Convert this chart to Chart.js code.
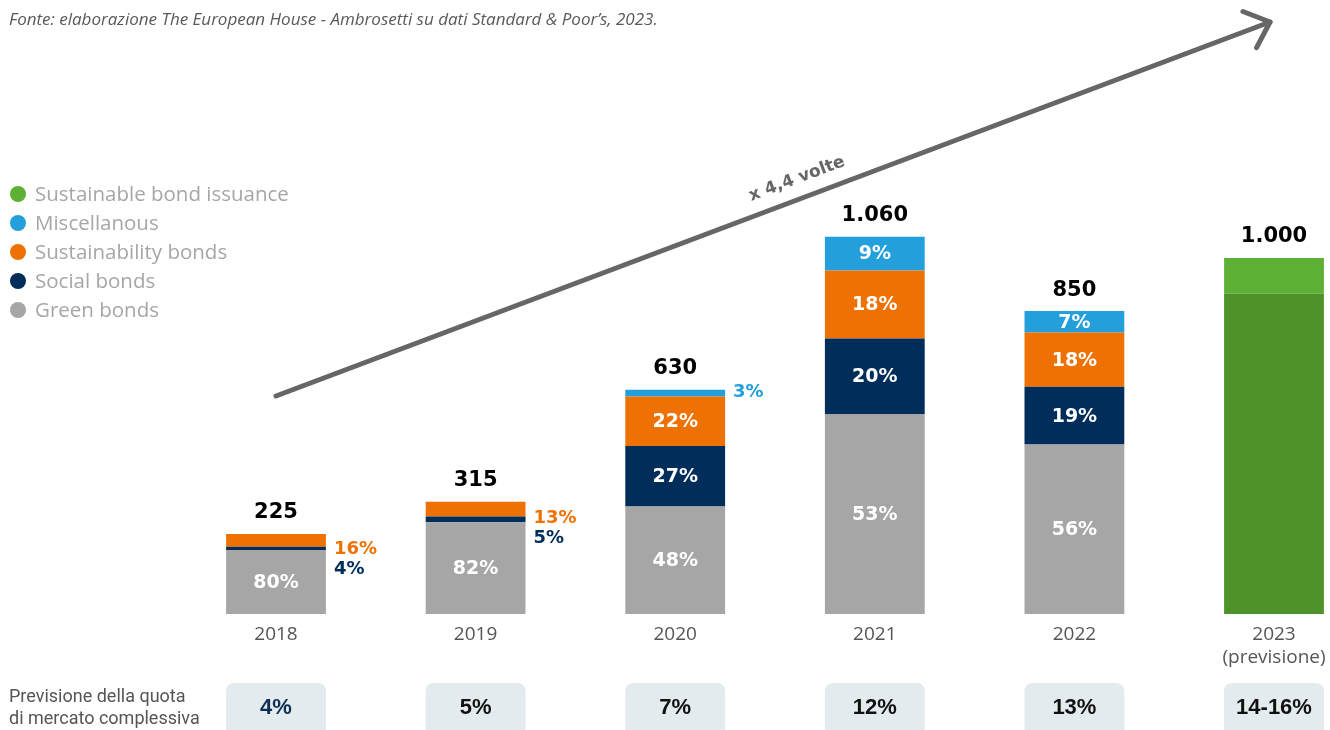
<!DOCTYPE html>
<html>
<head>
<meta charset="utf-8">
<script src="https://cdn.jsdelivr.net/npm/chart.js@4.4.1/dist/chart.umd.min.js"></script>
<style>
  html, body { margin: 0; background: #fff; }
  canvas { display: block; }
</style>
</head>
<body>
<canvas id="chart" width="1330" height="730"></canvas>
<script>
// values in bln USD
const years = ['2018', '2019', '2020', '2021', '2022', ['2023', '(previsione)']]
const totals = [225, 315, 630, 1060, 850, 1000]

const greenBonds = [180, 258, 302, 562, 476, null]
const socialBonds = [9, 16, 170, 212, 162, null]
const sustainabilityBonds = [36, 41, 139, 191, 153, null]
const miscellanous = [null, null, 19, 95, 60, null]
const sustainableBase = [null, null, null, null, null, 900]
const sustainableTop = [null, null, null, null, null, 100]

const greenShare = ['80%', '82%', '48%', '53%', '56%', null]
const socialShare = ['4%', '5%', '27%', '20%', '19%', null]
const sustainabilityShare = ['16%', '13%', '22%', '18%', '18%', null]
const miscShare = [null, null, '3%', '9%', '7%', null]

const marketShare = ['4%', '5%', '7%', '12%', '13%', '14-16%']

const GRAY = '#A6A6A6'
const NAVY = '#012D5A'
const ORANGE = '#EE7203'
const BLUE = '#239FDB'
const GREEN = '#5DB033'
const DARKGREEN = '#4E9229'

const fmt = n => String(n).replace(/\B(?=(\d{3})+(?!\d))/g, '.')

const overlay = {
  id: 'overlay',
  afterDatasetsDraw(chart) {
    const { ctx, scales: { x, y } } = chart
    ctx.save()
    // segment percentages
    for (let i = 0; i < years.length; i++) {
      const outside = []
      chart.data.datasets.forEach((ds, di) => {
        if (!ds.shares || !ds.shares[i]) return
        const el = chart.getDatasetMeta(di).data[i]
        if (!el) return
        const h = el.base - el.y
        if (h >= 18) {
          ctx.font = 'bold 19px "DejaVu Sans"'
          ctx.fillStyle = '#fff'
          ctx.textAlign = 'center'
          ctx.textBaseline = 'middle'
          ctx.fillText(ds.shares[i], el.x, (el.y + el.base) / 2 + 1)
        } else {
          outside.push({ text: ds.shares[i], color: ds.backgroundColor, el })
        }
      })
      outside.reverse()
      ctx.font = 'bold 18px "DejaVu Sans"'
      ctx.textAlign = 'left'
      ctx.textBaseline = 'middle'
      outside.forEach((o, k) => {
        const top = outside[0].el
        const cy = (top.y + top.base) / 2
        const yy = outside.length > 1 ? cy + 9 + k * 20 : cy - 1
        ctx.fillStyle = o.color
        ctx.fillText(o.text, o.el.x + o.el.width / 2 + 8, yy)
      })
      // totals
      ctx.font = 'bold 21px "DejaVu Sans"'
      ctx.fillStyle = '#000'
      ctx.textAlign = 'center'
      ctx.fillText(fmt(totals[i]), x.getPixelForValue(i), y.getPixelForValue(totals[i]) - 21)
    }
    ctx.restore()
  },
  afterDraw(chart) {
    const { ctx, scales: { x } } = chart
    ctx.save()

    // source
    ctx.font = 'italic 17px "Open Sans"'
    ctx.fillStyle = '#595959'
    ctx.textAlign = 'left'
    ctx.textBaseline = 'middle'
    ctx.fillText('Fonte: elaborazione The European House - Ambrosetti su dati Standard & Poor\u2019s, 2023.', 9, 20)

    // legend
    const items = chart.data.datasets.filter(d => d.legend !== false).reverse()
    items.forEach((d, k) => {
      const yy = 194 + k * 29
      ctx.beginPath()
      ctx.arc(18, yy, 8, 0, Math.PI * 2)
      ctx.fillStyle = d.backgroundColor
      ctx.fill()
      ctx.font = '20.5px "Open Sans"'
      ctx.fillStyle = GRAY
      ctx.fillText(d.label, 35, yy + 1)
    })

    // growth arrow
    const x0 = x.getPixelForValue(0), y0 = 396
    const x1 = x.getPixelForValue(5) - 4, y1 = 22
    const ang = Math.atan2(y1 - y0, x1 - x0)
    ctx.strokeStyle = '#666'
    ctx.lineWidth = 5
    ctx.lineCap = 'round'
    ctx.lineJoin = 'round'
    ctx.beginPath()
    ctx.moveTo(x0, y0)
    ctx.lineTo(x1, y1)
    ctx.stroke()
    ctx.beginPath()
    const arm = 29
    ctx.moveTo(x1 + arm * Math.cos(ang + Math.PI - 0.73), y1 + arm * Math.sin(ang + Math.PI - 0.73))
    ctx.lineTo(x1, y1)
    ctx.lineTo(x1 + arm * Math.cos(ang + Math.PI + 0.73), y1 + arm * Math.sin(ang + Math.PI + 0.73))
    ctx.stroke()
    ctx.save()
    ctx.translate(797, 179)
    ctx.rotate(ang)
    ctx.font = 'bold 17px "DejaVu Sans"'
    ctx.fillStyle = '#666'
    ctx.textAlign = 'center'
    ctx.fillText('x 4,4 volte', 0, 0)
    ctx.restore()

    // market share row
    ctx.font = '18px Roboto'
    ctx.fillStyle = '#555'
    ctx.textAlign = 'left'
    ctx.fillText('Previsione della quota', 9, 697)
    ctx.fillText('di mercato complessiva', 9, 719)
    marketShare.forEach((t, i) => {
      const cx = x.getPixelForValue(i)
      ctx.beginPath()
      ctx.roundRect(cx - 50, 683, 100, 60, 8)
      ctx.fillStyle = '#E4EBEE'
      ctx.fill()
      ctx.font = 'bold 22px "Liberation Sans"'
      ctx.fillStyle = i === 0 ? '#0D2E55' : '#111'
      ctx.textAlign = 'center'
      ctx.fillText(t, cx, 708)
    })
    ctx.restore()
  }
}

const data = {
  labels: years,
  datasets: [
    { label: 'Green bonds', data: greenBonds, backgroundColor: GRAY, shares: greenShare },
    { label: 'Social bonds', data: socialBonds, backgroundColor: NAVY, shares: socialShare },
    { label: 'Sustainability bonds', data: sustainabilityBonds, backgroundColor: ORANGE, shares: sustainabilityShare },
    { label: 'Miscellanous', data: miscellanous, backgroundColor: BLUE, shares: miscShare },
    { label: 'Sustainable bond issuance (base)', data: sustainableBase, backgroundColor: DARKGREEN, legend: false },
    { label: 'Sustainable bond issuance', data: sustainableTop, backgroundColor: GREEN },
  ].map(d => Object.assign(d, { clip: false }))
}

new Chart(document.getElementById('chart').getContext('2d'), {
  type: 'bar',
  data,
  options: {
    responsive: false,
    animation: false,
    devicePixelRatio: 1,
    categoryPercentage: 1,
    barPercentage: 0.5,
    borderWidth: 0,
    layout: { padding: { left: 276, right: 56, top: 80, bottom: 52.4 } },
    plugins: { legend: { display: false }, tooltip: { enabled: false } },
    scales: {
      x: {
        stacked: true,
        offset: false,
        grid: { display: false, drawTicks: false },
        border: { display: false },
        ticks: { color: '#555', font: { family: 'Open Sans', size: 19 }, padding: 9, maxRotation: 0, autoSkip: false },
        afterFit(scale) { scale.paddingLeft = 0; scale.paddingRight = 0 }
      },
      y: { stacked: true, display: false, min: 0, max: 1500 }
    }
  },
  plugins: [overlay]
})
</script>
</body>
</html>
